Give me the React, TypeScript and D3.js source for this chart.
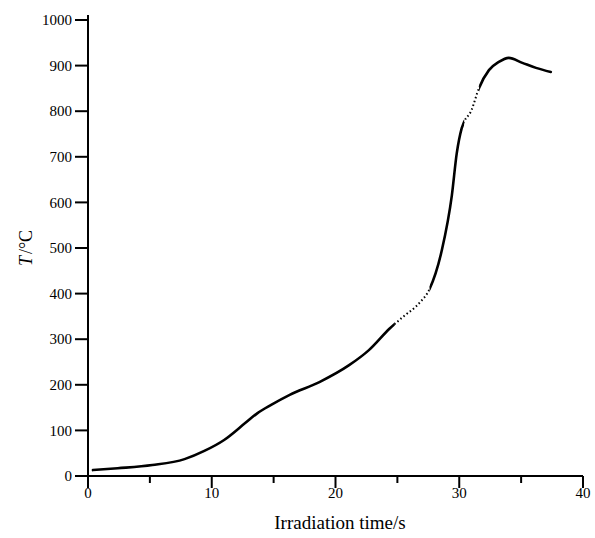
import React from "react";
import * as d3 from "d3";

const timeS = [0.4, 2.4, 5.2, 7.8, 9.4, 11, 12.7, 13.7, 14.8, 16.3, 18.7, 21.1, 22.7, 24.4, 25.5, 26.8, 27.6, 28.6, 29.4, 29.8, 30.2, 31, 31.6, 32.4, 33.2, 34, 35.1, 36.2, 37.4];
const tempC = [13, 17, 24, 37, 55, 79, 116, 138, 156, 178, 206, 243, 276, 324, 350, 380, 410, 496, 615, 708, 763, 803, 851, 890, 908, 917, 906, 895, 886];
const yTicks = [0, 100, 200, 300, 400, 500, 600, 700, 800, 900, 1000];
const xMajorTicks = [0, 10, 20, 30, 40];
const xMinorTicks = [5, 15, 25, 35];
const dottedRanges = [[24.8, 27.6], [30.4, 31.6]];

export default function App() {
  const W = 595, H = 538;
  const x = d3.scaleLinear().domain([0, 40]).range([88, 583]);
  const y = d3.scaleLinear().domain([0, 1000]).range([476, 20]);
  const pts: [number, number][] = timeS.map((t, i) => [t, tempC[i]]);
  const line = d3.line<[number, number]>().x(d => x(d[0])).y(d => y(d[1])).curve(d3.curveMonotoneX);
  const path = line(pts) || "";
  const font = "'Liberation Serif', 'Times New Roman', serif";
  const solidRanges: number[][] = [];
  let start = 0;
  dottedRanges.forEach(r => { solidRanges.push([start, r[0]]); start = r[1]; });
  solidRanges.push([start, 40]);
  return (
    <svg width={W} height={H} style={{ position: "absolute", left: 0, top: 0, background: "#fff" }}>
      <defs>
        <clipPath id="solidClip">
          {solidRanges.map((r, i) => (
            <rect key={i} x={x(r[0])} y={0} width={x(r[1]) - x(r[0])} height={H} />
          ))}
        </clipPath>
        <clipPath id="dotClip">
          {dottedRanges.map((r, i) => (
            <rect key={i} x={x(r[0])} y={0} width={x(r[1]) - x(r[0])} height={H} />
          ))}
        </clipPath>
      </defs>
      <line x1={x(0)} x2={x(0)} y1={15} y2={y(0)} stroke="#000" strokeWidth={2} />
      <line x1={x(0)} x2={x(40)} y1={y(0)} y2={y(0)} stroke="#000" strokeWidth={2} />
      {yTicks.map(v => (
        <g key={v}>
          <line x1={x(0) - 13} x2={x(0)} y1={y(v)} y2={y(v)} stroke="#000" strokeWidth={2} />
          <text x={72} y={y(v)} dy="0.35em" textAnchor="end" fontFamily={font} fontSize={15}>{v}</text>
        </g>
      ))}
      {xMajorTicks.map(v => (
        <g key={v}>
          <line x1={x(v)} x2={x(v)} y1={y(0)} y2={y(0) + 12} stroke="#000" strokeWidth={2} />
          <text x={x(v)} y={498} textAnchor="middle" fontFamily={font} fontSize={15}>{v}</text>
        </g>
      ))}
      {xMinorTicks.map(v => (
        <line key={v} x1={x(v)} x2={x(v)} y1={y(0)} y2={y(0) + 7} stroke="#000" strokeWidth={2} />
      ))}
      <path d={path} fill="none" stroke="#000" strokeWidth={2.6} clipPath="url(#solidClip)" strokeLinecap="round" />
      <path d={path} fill="none" stroke="#000" strokeWidth={2} strokeDasharray="1.5 2.5" clipPath="url(#dotClip)" />
      <text x={340} y={529} fontFamily={font} fontSize={19} textAnchor="middle">Irradiation time/s</text>
      <text transform="translate(32,248) rotate(-90)" textAnchor="middle" fontFamily={font} fontSize={18}>
        <tspan fontStyle="italic">T</tspan>
        <tspan dx="2">/°C</tspan>
      </text>
    </svg>
  );
}
